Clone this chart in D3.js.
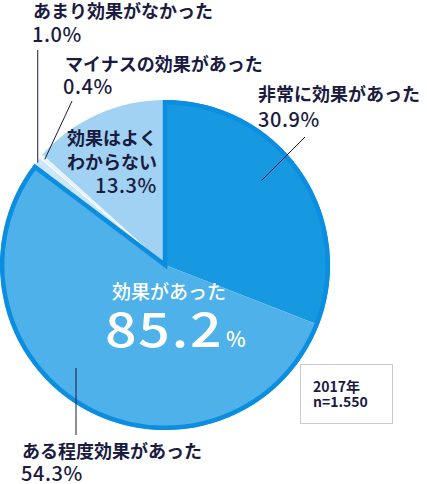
<!DOCTYPE html>
<html><head><meta charset="utf-8">
<script src="https://cdn.jsdelivr.net/npm/d3@7/dist/d3.min.js"></script>
<style>body{margin:0;background:#fff}svg{display:block}</style>
</head><body>
<svg id="c" width="427" height="484"></svg>
<script>
const categories = ["非常に効果があった","ある程度効果があった","あまり効果がなかった","マイナスの効果があった","効果はよくわからない"];
const values = [30.9, 54.3, 1.0, 0.4, 13.3];
const colors = ["#1799e2","#4fb1ea","#cbe7f9","#e4f3fd","#a1d2f3"];
const totalLabel = "効果があった";
const totalValue = "85.2";
const note = ["2017年","n=1.550"];

const svg = d3.select("#c");
const cx = 165, cy = 265, r = 165;
const g = svg.append("g").attr("transform",`translate(${cx},${cy})`);
const pie = d3.pie().sort(null).value(d=>d)(values);
const arc = d3.arc().innerRadius(0).outerRadius(r);
g.selectAll("path.s").data(pie).join("path").attr("class","s")
  .attr("d",arc).attr("fill",(d,i)=>colors[i])
  .attr("stroke",(d,i)=> (i===2||i===3)?"#fff":"none").attr("stroke-width",1);
const grpArc = d3.arc().innerRadius(0).outerRadius(r-2.2)
  ({startAngle:pie[0].startAngle,endAngle:pie[1].endAngle});
g.append("path").attr("d",grpArc).attr("fill","none")
  .attr("stroke","#0b8de0").attr("stroke-width",4.5).attr("stroke-linejoin","miter");

const txt = "#1b1b3f";
const font = "'Noto Sans CJK JP', sans-serif";
function label(x,y,s,opts={}){
  return svg.append("text").attr("x",x).attr("y",y).text(s)
    .attr("font-family",opts.family||font).attr("font-weight",opts.w||700)
    .attr("font-size",opts.size||18).attr("fill",opts.fill||txt)
    .attr("text-anchor",opts.anchor||"start")
    .attr("letter-spacing",opts.ls||0);
}
const pct = v => v.toFixed(1)+"%";
function numLabel(x,y,v,anchor){ return label(x,y,pct(v),{size:20,w:500,ls:0.6,anchor:anchor}); }
function pt(a, rad){ return [cx + rad*Math.sin(a), cy - rad*Math.cos(a)]; }
function mid(d){ return (d.startAngle+d.endAngle)/2; }

// 非常に効果があった
label(258,101,categories[0]); numLabel(258,127,values[0]);
let p0 = pt(mid(pie[0])-0.12, r*0.78);
svg.append("line").attr("x1",305).attr("y1",137).attr("x2",p0[0]).attr("y2",p0[1]).attr("stroke",txt).attr("stroke-width",1);

// ある程度効果があった
label(22,458,categories[1]); numLabel(21,481,values[1]);
svg.append("line").attr("x1",76).attr("y1",435).attr("x2",76).attr("y2",368).attr("stroke",txt).attr("stroke-width",1);

// あまり効果がなかった
label(33,18,categories[2]); numLabel(32,42,values[2]);
let p2 = pt(mid(pie[2]), r*0.99);
svg.append("line").attr("x1",p2[0]).attr("y1",50).attr("x2",p2[0]).attr("y2",p2[1]).attr("stroke",txt).attr("stroke-width",1);

// マイナスの効果があった
label(65,71,categories[3]); numLabel(63,94,values[3]);
let p3 = pt(mid(pie[3]), r*0.97);
svg.append("line").attr("x1",72).attr("y1",101).attr("x2",p3[0]).attr("y2",p3[1]).attr("stroke",txt).attr("stroke-width",1);

// 効果はよくわからない
label(157,145,"効果はよく",{anchor:"end"});
label(157,169,"わからない",{anchor:"end"});
numLabel(157,193,values[4],"end");

// center total
label(112,299,totalLabel,{fill:"#fff",size:19,w:500});
svg.append("text").attr("transform","translate(105,347) scale(1.18,1)")
  .attr("fill","#fff").attr("font-family",font).attr("font-size",47)
  .attr("font-weight",500).attr("letter-spacing",1.5).text(totalValue);
label(226,347,"%",{fill:"#fff",size:21,w:500});

// note box
svg.append("rect").attr("x",300.5).attr("y",364.5).attr("width",92).attr("height",59)
  .attr("fill","#fff").attr("stroke","#cccccc").attr("stroke-width",1);
label(313,392,note[0],{size:14,w:700});
label(313,407,note[1],{size:14,w:700});
</script>
</body></html>
